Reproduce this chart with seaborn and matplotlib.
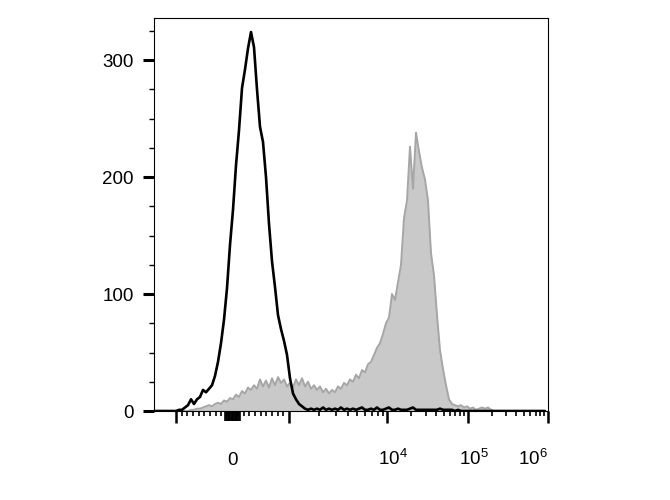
import numpy as np
import pandas as pd
import matplotlib
matplotlib.use("Agg")
import matplotlib.pyplot as plt
import matplotlib.transforms as mtrans
import seaborn as sns

# ---------------- data (counts per display bin, left to right) ----------------
control_counts = [
    0, 0, 0, 0, 0, 0, 0, 0,
    1, 1, 3, 5, 10, 6, 10, 12, 18, 16,
    19, 22, 30, 42, 58, 78, 105, 142, 172, 210,
    240, 276, 292, 310, 324, 311, 275, 243, 230, 200,
    160, 128, 106, 82, 70, 60, 48, 28, 15, 10,
    6, 4, 2, 1, 2, 1, 2, 1, 3, 1,
    2, 1, 2, 1, 3, 1, 2, 1, 2, 1,
    2, 3, 1, 1, 2, 1, 3, 1, 1, 2,
    3, 1, 1, 2, 1, 1, 1, 2, 3, 1,
    1, 1, 1, 1, 1, 1, 1, 2, 1, 1,
    1, 1, 0, 1, 0,
    0, 0, 0, 0, 0, 0, 0, 0, 0, 0, 0, 0, 0, 0,
    0, 0, 0, 0, 0, 0, 0, 0, 0, 0, 0, 0, 0, 0,
]
stained_counts = [
    0, 0, 0, 0, 0, 0, 0, 0, 0, 0, 0, 0,
    1, 1, 2, 2, 3, 4, 5, 4,
    6, 7, 6, 9, 8, 11, 10, 14, 12, 17,
    15, 20, 18, 22, 19, 27, 21, 26, 20, 28,
    22, 29, 24, 27, 21, 24, 20, 27, 22, 28,
    21, 25, 19, 22, 18, 21, 16, 19, 15, 18,
    16, 21, 19, 24, 22, 27, 25, 31, 28, 35,
    33, 40, 42, 48, 54, 58, 66, 75, 80, 100,
    95, 110, 125, 165, 180, 226, 190, 238, 222, 208,
    198, 180, 135, 116, 82, 52, 36, 22, 10, 6,
    5, 4, 5, 3, 4, 2, 3, 1, 2, 3,
    2, 3, 1,
    0, 0, 0, 0, 0, 0, 0, 0, 0, 0, 0, 0, 0, 0, 0, 0, 0, 0,
]
y_major = [0, 100, 200, 300]
x_labels = {0: "0", 1e4: "$10^4$", 1e5: "$10^5$", 1e6: "$10^6$"}

# ---------------- display scale (biexponential-like) ----------------
def disp(v):
    v = np.asarray(v, dtype=float)
    lin = 78.5 + v * 0.0565
    logpart = np.interp(np.log10(np.maximum(np.abs(v), 1.0)), [3, 4, 5, 6], [135, 233, 314, 394])
    return np.where(np.abs(v) <= 1000, lin, np.sign(v) * logpart)

def disp_near_zero(v):
    return 78.5 + np.asarray(v, dtype=float) * 0.078

n = len(control_counts)
channel = np.arange(n) * 3 + 1.0
df = pd.DataFrame({"channel": channel, "control": control_counts, "stained": stained_counts})

sns.set_style("ticks")
plt.rcParams["font.family"] = ["Liberation Sans", "DejaVu Sans"]
plt.rcParams["mathtext.fontset"] = "custom"
plt.rcParams["mathtext.rm"] = "Liberation Sans"
plt.rcParams["mathtext.it"] = "Liberation Sans:italic"
plt.rcParams["mathtext.bf"] = "Liberation Sans:bold"

fig = plt.figure(figsize=(6.7, 5), dpi=100)
ax = fig.add_axes([154 / 670, 1 - 411 / 500, 394 / 670, 393 / 500])

ax.fill_between(df["channel"], 0, df["stained"], color="#c9c9c9", lw=0, zorder=1)
sns.lineplot(data=df, x="channel", y="stained", color="#a6a6a6", lw=1.4, estimator=None, ax=ax, zorder=2)
sns.lineplot(data=df, x="channel", y="control", color="black", lw=1.9, estimator=None, ax=ax, zorder=3)

ax.set_xlim(0, 394)
ax.set_ylim(0, 336)
ax.set_xlabel("")
ax.set_ylabel("")

for s in ax.spines.values():
    s.set_linewidth(0.8)
    s.set_color("black")

FS = 13.5
# y ticks
ax.set_yticks(y_major)
ax.set_yticklabels([str(v) for v in y_major])
ax.set_yticks(np.arange(0, 336, 25), minor=True)
ax.tick_params(axis="y", which="major", length=8, width=2.2, pad=6.5, labelsize=FS, colors="black")
ax.tick_params(axis="y", which="minor", length=3.5, width=1.0, colors="black")

# x ticks
near_zero = [s * m for s in (-1, 1) for m in range(10, 100, 10)]
major_vals = [-1e3, 0, 1e3, 1e4, 1e5, 1e6]
major_pos = list(disp(major_vals)) + list(disp_near_zero(near_zero))
major_labels = [x_labels.get(v, "") for v in major_vals] + [""] * len(near_zero)
minor_vals = [s * m for s in (-1, 1) for m in range(100, 1000, 100)]
minor_vals += [m * 10 ** k for k in (3, 4, 5) for m in range(2, 10)]
ax.set_xticks(major_pos, major_labels)
ax.set_xticks(disp(minor_vals), minor=True)
ax.tick_params(axis="x", which="major", length=8.5, width=1.8, pad=30.4, labelsize=FS, colors="black")
ax.tick_params(axis="x", which="minor", length=3.5, width=1.2, colors="black")

ticks = ax.xaxis.get_major_ticks()
for i, (t, lab) in enumerate(zip(ticks, major_labels)):
    t.label1.set_verticalalignment("baseline")
    if i >= len(major_vals) or major_vals[i] == 0:
        t.tick1line.set_markeredgewidth(1.2)
        t.tick1line.set_markersize(7)
    if lab in ("$10^4$", "$10^5$"):
        t.label1.set_transform(t.label1.get_transform() + mtrans.ScaledTranslation(4.3 / 72, 0, fig.dpi_scale_trans))
    if lab == "$10^6$":
        t.label1.set_transform(t.label1.get_transform() + mtrans.ScaledTranslation(-11 / 72, 0, fig.dpi_scale_trans))

fig.savefig("out.png", dpi=100)
